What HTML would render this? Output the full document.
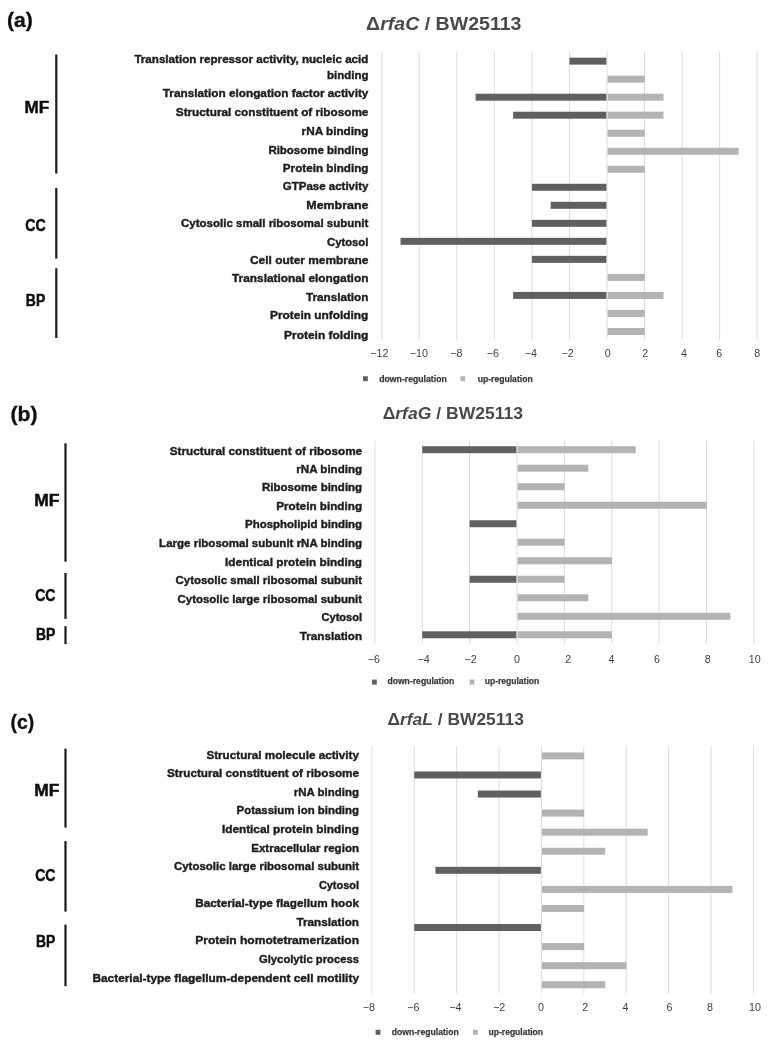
<!DOCTYPE html>
<html lang="en">
<head>
<meta charset="utf-8">
<title>GO enrichment of differentially expressed proteins</title>
<style>
html,body{margin:0;padding:0;background:#fff;}
body{width:776px;height:1048px;overflow:hidden;}
svg{display:block;font-family:"Liberation Sans",sans-serif;}
</style>
</head>
<body>
<svg width="776" height="1048" viewBox="0 0 776 1048">
<defs><filter id="soft" x="0" y="0" width="776" height="1048" filterUnits="userSpaceOnUse"><feGaussianBlur stdDeviation="0.45"/></filter></defs>
<rect x="0" y="0" width="776" height="1048" fill="#ffffff"/>
<g filter="url(#soft)">
<line x1="381.76" y1="51.50" x2="381.76" y2="339.60" stroke="#dcdcdc" stroke-width="1"/>
<line x1="419.30" y1="51.50" x2="419.30" y2="339.60" stroke="#dcdcdc" stroke-width="1"/>
<line x1="456.84" y1="51.50" x2="456.84" y2="339.60" stroke="#dcdcdc" stroke-width="1"/>
<line x1="494.38" y1="51.50" x2="494.38" y2="339.60" stroke="#dcdcdc" stroke-width="1"/>
<line x1="531.92" y1="51.50" x2="531.92" y2="339.60" stroke="#dcdcdc" stroke-width="1"/>
<line x1="569.46" y1="51.50" x2="569.46" y2="339.60" stroke="#dcdcdc" stroke-width="1"/>
<line x1="607.00" y1="51.50" x2="607.00" y2="339.60" stroke="#dcdcdc" stroke-width="1"/>
<line x1="644.54" y1="51.50" x2="644.54" y2="339.60" stroke="#dcdcdc" stroke-width="1"/>
<line x1="682.08" y1="51.50" x2="682.08" y2="339.60" stroke="#dcdcdc" stroke-width="1"/>
<line x1="719.62" y1="51.50" x2="719.62" y2="339.60" stroke="#dcdcdc" stroke-width="1"/>
<line x1="757.16" y1="51.50" x2="757.16" y2="339.60" stroke="#dcdcdc" stroke-width="1"/>
<rect x="569.46" y="57.65" width="36.94" height="7.00" fill="#616161"/>
<rect x="607.60" y="75.67" width="37.14" height="7.00" fill="#b3b3b3"/>
<rect x="475.61" y="93.69" width="130.79" height="7.00" fill="#616161"/>
<rect x="607.60" y="93.69" width="55.91" height="7.00" fill="#b3b3b3"/>
<rect x="513.15" y="111.71" width="93.25" height="7.00" fill="#616161"/>
<rect x="607.60" y="111.71" width="55.91" height="7.00" fill="#b3b3b3"/>
<rect x="607.60" y="129.73" width="37.14" height="7.00" fill="#b3b3b3"/>
<rect x="607.60" y="147.75" width="130.99" height="7.00" fill="#b3b3b3"/>
<rect x="607.60" y="165.77" width="37.14" height="7.00" fill="#b3b3b3"/>
<rect x="531.92" y="183.79" width="74.48" height="7.00" fill="#616161"/>
<rect x="550.69" y="201.81" width="55.71" height="7.00" fill="#616161"/>
<rect x="531.92" y="219.83" width="74.48" height="7.00" fill="#616161"/>
<rect x="400.53" y="237.85" width="205.87" height="7.00" fill="#616161"/>
<rect x="531.92" y="255.87" width="74.48" height="7.00" fill="#616161"/>
<rect x="607.60" y="273.89" width="37.14" height="7.00" fill="#b3b3b3"/>
<rect x="513.15" y="291.91" width="93.25" height="7.00" fill="#616161"/>
<rect x="607.60" y="291.91" width="55.91" height="7.00" fill="#b3b3b3"/>
<rect x="607.60" y="309.93" width="37.14" height="7.00" fill="#b3b3b3"/>
<rect x="607.60" y="327.95" width="37.14" height="7.00" fill="#b3b3b3"/>
<text x="134.4" y="62.8" font-size="11.6" font-weight="bold" text-anchor="start" fill="#1c1c1c" textLength="234.0" lengthAdjust="spacingAndGlyphs" stroke="#1c1c1c" stroke-width="0.4">Translation repressor activity, nucleic acid</text>
<text x="327.0" y="78.5" font-size="11.6" font-weight="bold" text-anchor="start" fill="#1c1c1c" textLength="41.4" lengthAdjust="spacingAndGlyphs" stroke="#1c1c1c" stroke-width="0.4">binding</text>
<text x="162.8" y="96.5" font-size="11.6" font-weight="bold" text-anchor="start" fill="#1c1c1c" textLength="205.6" lengthAdjust="spacingAndGlyphs" stroke="#1c1c1c" stroke-width="0.4">Translation elongation factor activity</text>
<text x="175.8" y="115.7" font-size="11.6" font-weight="bold" text-anchor="start" fill="#1c1c1c" textLength="192.6" lengthAdjust="spacingAndGlyphs" stroke="#1c1c1c" stroke-width="0.4">Structural constituent of ribosome</text>
<text x="301.6" y="135.0" font-size="11.6" font-weight="bold" text-anchor="start" fill="#1c1c1c" textLength="66.8" lengthAdjust="spacingAndGlyphs" stroke="#1c1c1c" stroke-width="0.4">rNA binding</text>
<text x="268.4" y="153.5" font-size="11.6" font-weight="bold" text-anchor="start" fill="#1c1c1c" textLength="100.0" lengthAdjust="spacingAndGlyphs" stroke="#1c1c1c" stroke-width="0.4">Ribosome binding</text>
<text x="282.8" y="171.7" font-size="11.6" font-weight="bold" text-anchor="start" fill="#1c1c1c" textLength="85.6" lengthAdjust="spacingAndGlyphs" stroke="#1c1c1c" stroke-width="0.4">Protein binding</text>
<text x="282.8" y="189.8" font-size="11.6" font-weight="bold" text-anchor="start" fill="#1c1c1c" textLength="85.6" lengthAdjust="spacingAndGlyphs" stroke="#1c1c1c" stroke-width="0.4">GTPase activity</text>
<text x="306.3" y="208.7" font-size="11.6" font-weight="bold" text-anchor="start" fill="#1c1c1c" textLength="62.1" lengthAdjust="spacingAndGlyphs" stroke="#1c1c1c" stroke-width="0.4">Membrane</text>
<text x="181.0" y="227.2" font-size="11.6" font-weight="bold" text-anchor="start" fill="#1c1c1c" textLength="187.4" lengthAdjust="spacingAndGlyphs" stroke="#1c1c1c" stroke-width="0.4">Cytosolic small ribosomal subunit</text>
<text x="327.0" y="245.8" font-size="11.6" font-weight="bold" text-anchor="start" fill="#1c1c1c" textLength="41.4" lengthAdjust="spacingAndGlyphs" stroke="#1c1c1c" stroke-width="0.4">Cytosol</text>
<text x="250.0" y="263.9" font-size="11.6" font-weight="bold" text-anchor="start" fill="#1c1c1c" textLength="118.4" lengthAdjust="spacingAndGlyphs" stroke="#1c1c1c" stroke-width="0.4">Cell outer membrane</text>
<text x="232.0" y="282.1" font-size="11.6" font-weight="bold" text-anchor="start" fill="#1c1c1c" textLength="136.4" lengthAdjust="spacingAndGlyphs" stroke="#1c1c1c" stroke-width="0.4">Translational elongation</text>
<text x="306.0" y="301.0" font-size="11.6" font-weight="bold" text-anchor="start" fill="#1c1c1c" textLength="62.4" lengthAdjust="spacingAndGlyphs" stroke="#1c1c1c" stroke-width="0.4">Translation</text>
<text x="270.0" y="319.2" font-size="11.6" font-weight="bold" text-anchor="start" fill="#1c1c1c" textLength="98.4" lengthAdjust="spacingAndGlyphs" stroke="#1c1c1c" stroke-width="0.4">Protein unfolding</text>
<text x="284.0" y="338.6" font-size="11.6" font-weight="bold" text-anchor="start" fill="#1c1c1c" textLength="84.4" lengthAdjust="spacingAndGlyphs" stroke="#1c1c1c" stroke-width="0.4">Protein folding</text>
<text x="379.4" y="357.0" font-size="10.7" font-weight="normal" text-anchor="middle" fill="#404040">−12</text>
<text x="418.8" y="357.0" font-size="10.7" font-weight="normal" text-anchor="middle" fill="#404040">−10</text>
<text x="456.4" y="357.0" font-size="10.7" font-weight="normal" text-anchor="middle" fill="#404040">−8</text>
<text x="492.8" y="357.0" font-size="10.7" font-weight="normal" text-anchor="middle" fill="#404040">−6</text>
<text x="530.9" y="357.0" font-size="10.7" font-weight="normal" text-anchor="middle" fill="#404040">−4</text>
<text x="567.5" y="357.0" font-size="10.7" font-weight="normal" text-anchor="middle" fill="#404040">−2</text>
<text x="607.7" y="357.0" font-size="10.7" font-weight="normal" text-anchor="middle" fill="#404040">0</text>
<text x="645.3" y="357.0" font-size="10.7" font-weight="normal" text-anchor="middle" fill="#404040">2</text>
<text x="683.9" y="357.0" font-size="10.7" font-weight="normal" text-anchor="middle" fill="#404040">4</text>
<text x="719.2" y="357.0" font-size="10.7" font-weight="normal" text-anchor="middle" fill="#404040">6</text>
<text x="757.3" y="357.0" font-size="10.7" font-weight="normal" text-anchor="middle" fill="#404040">8</text>
<rect x="363.00" y="376.20" width="4.80" height="5.00" fill="#616161"/>
<text x="379.2" y="381.8" font-size="9.0" font-weight="bold" text-anchor="start" fill="#383838" textLength="67.6" lengthAdjust="spacingAndGlyphs" stroke="#383838" stroke-width="0.25">down-regulation</text>
<rect x="460.40" y="376.20" width="4.80" height="5.00" fill="#b3b3b3"/>
<text x="477.7" y="381.8" font-size="9.0" font-weight="bold" text-anchor="start" fill="#383838" textLength="55.0" lengthAdjust="spacingAndGlyphs" stroke="#383838" stroke-width="0.25">up-regulation</text>
<text x="366.1" y="30.3" font-size="19.0" font-weight="bold" fill="#484848" textLength="155.4" lengthAdjust="spacingAndGlyphs">Δ<tspan font-style="italic">rfaC</tspan> / BW25113</text>
<text x="7.0" y="26.6" font-size="20.8" font-weight="bold" text-anchor="start" fill="#111" textLength="25.9" lengthAdjust="spacingAndGlyphs" stroke="#111" stroke-width="0.3">(a)</text>
<text x="24.6" y="113.0" font-size="16" font-weight="bold" text-anchor="start" fill="#111" textLength="24.7" lengthAdjust="spacingAndGlyphs" stroke="#111" stroke-width="0.5">MF</text>
<text x="25.3" y="230.8" font-size="16" font-weight="bold" text-anchor="start" fill="#111" textLength="20.3" lengthAdjust="spacingAndGlyphs" stroke="#111" stroke-width="0.5">CC</text>
<text x="25.8" y="305.5" font-size="16" font-weight="bold" text-anchor="start" fill="#111" textLength="19.4" lengthAdjust="spacingAndGlyphs" stroke="#111" stroke-width="0.5">BP</text>
<line x1="56.30" y1="54.50" x2="56.30" y2="173.60" stroke="#1a1a1a" stroke-width="2.2"/>
<line x1="56.30" y1="187.90" x2="56.30" y2="258.60" stroke="#1a1a1a" stroke-width="2.2"/>
<line x1="56.30" y1="268.20" x2="56.30" y2="338.00" stroke="#1a1a1a" stroke-width="2.2"/>
<line x1="374.86" y1="440.60" x2="374.86" y2="643.20" stroke="#dcdcdc" stroke-width="1"/>
<line x1="422.24" y1="440.60" x2="422.24" y2="643.20" stroke="#dcdcdc" stroke-width="1"/>
<line x1="469.62" y1="440.60" x2="469.62" y2="643.20" stroke="#dcdcdc" stroke-width="1"/>
<line x1="517.00" y1="440.60" x2="517.00" y2="643.20" stroke="#dcdcdc" stroke-width="1"/>
<line x1="564.38" y1="440.60" x2="564.38" y2="643.20" stroke="#dcdcdc" stroke-width="1"/>
<line x1="611.76" y1="440.60" x2="611.76" y2="643.20" stroke="#dcdcdc" stroke-width="1"/>
<line x1="659.14" y1="440.60" x2="659.14" y2="643.20" stroke="#dcdcdc" stroke-width="1"/>
<line x1="706.52" y1="440.60" x2="706.52" y2="643.20" stroke="#dcdcdc" stroke-width="1"/>
<line x1="753.90" y1="440.60" x2="753.90" y2="643.20" stroke="#dcdcdc" stroke-width="1"/>
<rect x="422.24" y="446.20" width="94.16" height="7.00" fill="#616161"/>
<rect x="517.60" y="446.20" width="118.05" height="7.00" fill="#b3b3b3"/>
<rect x="517.60" y="464.71" width="70.67" height="7.00" fill="#b3b3b3"/>
<rect x="517.60" y="483.22" width="46.98" height="7.00" fill="#b3b3b3"/>
<rect x="517.60" y="501.73" width="189.12" height="7.00" fill="#b3b3b3"/>
<rect x="469.62" y="520.24" width="46.78" height="7.00" fill="#616161"/>
<rect x="517.60" y="538.75" width="46.98" height="7.00" fill="#b3b3b3"/>
<rect x="517.60" y="557.26" width="94.36" height="7.00" fill="#b3b3b3"/>
<rect x="469.62" y="575.77" width="46.78" height="7.00" fill="#616161"/>
<rect x="517.60" y="575.77" width="46.98" height="7.00" fill="#b3b3b3"/>
<rect x="517.60" y="594.28" width="70.67" height="7.00" fill="#b3b3b3"/>
<rect x="517.60" y="612.79" width="212.81" height="7.00" fill="#b3b3b3"/>
<rect x="422.24" y="631.30" width="94.16" height="7.00" fill="#616161"/>
<rect x="517.60" y="631.30" width="94.36" height="7.00" fill="#b3b3b3"/>
<text x="169.8" y="454.5" font-size="11.6" font-weight="bold" text-anchor="start" fill="#1c1c1c" textLength="192.3" lengthAdjust="spacingAndGlyphs" stroke="#1c1c1c" stroke-width="0.4">Structural constituent of ribosome</text>
<text x="296.3" y="472.9" font-size="11.6" font-weight="bold" text-anchor="start" fill="#1c1c1c" textLength="65.8" lengthAdjust="spacingAndGlyphs" stroke="#1c1c1c" stroke-width="0.4">rNA binding</text>
<text x="262.0" y="491.4" font-size="11.6" font-weight="bold" text-anchor="start" fill="#1c1c1c" textLength="100.1" lengthAdjust="spacingAndGlyphs" stroke="#1c1c1c" stroke-width="0.4">Ribosome binding</text>
<text x="276.2" y="509.8" font-size="11.6" font-weight="bold" text-anchor="start" fill="#1c1c1c" textLength="85.9" lengthAdjust="spacingAndGlyphs" stroke="#1c1c1c" stroke-width="0.4">Protein binding</text>
<text x="245.0" y="528.2" font-size="11.6" font-weight="bold" text-anchor="start" fill="#1c1c1c" textLength="117.1" lengthAdjust="spacingAndGlyphs" stroke="#1c1c1c" stroke-width="0.4">Phospholipid binding</text>
<text x="159.1" y="547.2" font-size="11.6" font-weight="bold" text-anchor="start" fill="#1c1c1c" textLength="203.0" lengthAdjust="spacingAndGlyphs" stroke="#1c1c1c" stroke-width="0.4">Large ribosomal subunit rNA binding</text>
<text x="225.1" y="565.6" font-size="11.6" font-weight="bold" text-anchor="start" fill="#1c1c1c" textLength="137.0" lengthAdjust="spacingAndGlyphs" stroke="#1c1c1c" stroke-width="0.4">Identical protein binding</text>
<text x="175.5" y="583.5" font-size="11.6" font-weight="bold" text-anchor="start" fill="#1c1c1c" textLength="186.6" lengthAdjust="spacingAndGlyphs" stroke="#1c1c1c" stroke-width="0.4">Cytosolic small ribosomal subunit</text>
<text x="177.5" y="602.5" font-size="11.6" font-weight="bold" text-anchor="start" fill="#1c1c1c" textLength="184.6" lengthAdjust="spacingAndGlyphs" stroke="#1c1c1c" stroke-width="0.4">Cytosolic large ribosomal subunit</text>
<text x="321.5" y="620.9" font-size="11.6" font-weight="bold" text-anchor="start" fill="#1c1c1c" textLength="40.6" lengthAdjust="spacingAndGlyphs" stroke="#1c1c1c" stroke-width="0.4">Cytosol</text>
<text x="299.7" y="639.6" font-size="11.6" font-weight="bold" text-anchor="start" fill="#1c1c1c" textLength="62.4" lengthAdjust="spacingAndGlyphs" stroke="#1c1c1c" stroke-width="0.4">Translation</text>
<text x="373.9" y="663.3" font-size="10.7" font-weight="normal" text-anchor="middle" fill="#404040">−6</text>
<text x="423.5" y="663.3" font-size="10.7" font-weight="normal" text-anchor="middle" fill="#404040">−4</text>
<text x="470.6" y="663.3" font-size="10.7" font-weight="normal" text-anchor="middle" fill="#404040">−2</text>
<text x="516.9" y="663.3" font-size="10.7" font-weight="normal" text-anchor="middle" fill="#404040">0</text>
<text x="568.2" y="663.3" font-size="10.7" font-weight="normal" text-anchor="middle" fill="#404040">2</text>
<text x="611.5" y="663.3" font-size="10.7" font-weight="normal" text-anchor="middle" fill="#404040">4</text>
<text x="657.1" y="663.3" font-size="10.7" font-weight="normal" text-anchor="middle" fill="#404040">6</text>
<text x="707.8" y="663.3" font-size="10.7" font-weight="normal" text-anchor="middle" fill="#404040">8</text>
<text x="754.8" y="663.3" font-size="10.7" font-weight="normal" text-anchor="middle" fill="#404040">10</text>
<rect x="372.00" y="679.60" width="4.80" height="5.00" fill="#616161"/>
<text x="387.4" y="684.0" font-size="9.0" font-weight="bold" text-anchor="start" fill="#383838" textLength="67.0" lengthAdjust="spacingAndGlyphs" stroke="#383838" stroke-width="0.25">down-regulation</text>
<rect x="469.60" y="679.60" width="4.80" height="5.00" fill="#b3b3b3"/>
<text x="484.8" y="684.0" font-size="9.0" font-weight="bold" text-anchor="start" fill="#383838" textLength="54.4" lengthAdjust="spacingAndGlyphs" stroke="#383838" stroke-width="0.25">up-regulation</text>
<text x="382.7" y="419.4" font-size="17.3" font-weight="bold" fill="#484848" textLength="140.3" lengthAdjust="spacingAndGlyphs">Δ<tspan font-style="italic">rfaG</tspan> / BW25113</text>
<text x="10.5" y="420.9" font-size="20.8" font-weight="bold" text-anchor="start" fill="#111" textLength="27.1" lengthAdjust="spacingAndGlyphs" stroke="#111" stroke-width="0.3">(b)</text>
<text x="34.3" y="505.7" font-size="16" font-weight="bold" text-anchor="start" fill="#111" textLength="25.2" lengthAdjust="spacingAndGlyphs" stroke="#111" stroke-width="0.5">MF</text>
<text x="35.3" y="600.8" font-size="16" font-weight="bold" text-anchor="start" fill="#111" textLength="20.1" lengthAdjust="spacingAndGlyphs" stroke="#111" stroke-width="0.5">CC</text>
<text x="35.9" y="639.5" font-size="16" font-weight="bold" text-anchor="start" fill="#111" textLength="19.3" lengthAdjust="spacingAndGlyphs" stroke="#111" stroke-width="0.5">BP</text>
<line x1="65.50" y1="443.30" x2="65.50" y2="561.70" stroke="#1a1a1a" stroke-width="2.2"/>
<line x1="65.50" y1="573.00" x2="65.50" y2="618.90" stroke="#1a1a1a" stroke-width="2.2"/>
<line x1="65.50" y1="626.20" x2="65.50" y2="644.10" stroke="#1a1a1a" stroke-width="2.2"/>
<line x1="371.85" y1="746.30" x2="371.85" y2="993.60" stroke="#dcdcdc" stroke-width="1"/>
<line x1="414.25" y1="746.30" x2="414.25" y2="993.60" stroke="#dcdcdc" stroke-width="1"/>
<line x1="456.65" y1="746.30" x2="456.65" y2="993.60" stroke="#dcdcdc" stroke-width="1"/>
<line x1="499.05" y1="746.30" x2="499.05" y2="993.60" stroke="#dcdcdc" stroke-width="1"/>
<line x1="541.45" y1="746.30" x2="541.45" y2="993.60" stroke="#dcdcdc" stroke-width="1"/>
<line x1="583.85" y1="746.30" x2="583.85" y2="993.60" stroke="#dcdcdc" stroke-width="1"/>
<line x1="626.25" y1="746.30" x2="626.25" y2="993.60" stroke="#dcdcdc" stroke-width="1"/>
<line x1="668.65" y1="746.30" x2="668.65" y2="993.60" stroke="#dcdcdc" stroke-width="1"/>
<line x1="711.05" y1="746.30" x2="711.05" y2="993.60" stroke="#dcdcdc" stroke-width="1"/>
<line x1="753.45" y1="746.30" x2="753.45" y2="993.60" stroke="#dcdcdc" stroke-width="1"/>
<rect x="542.05" y="752.40" width="42.00" height="7.00" fill="#b3b3b3"/>
<rect x="414.25" y="771.47" width="126.60" height="7.00" fill="#616161"/>
<rect x="477.85" y="790.54" width="63.00" height="7.00" fill="#616161"/>
<rect x="542.05" y="809.61" width="42.00" height="7.00" fill="#b3b3b3"/>
<rect x="542.05" y="828.68" width="105.60" height="7.00" fill="#b3b3b3"/>
<rect x="542.05" y="847.75" width="63.20" height="7.00" fill="#b3b3b3"/>
<rect x="435.45" y="866.82" width="105.40" height="7.00" fill="#616161"/>
<rect x="542.05" y="885.89" width="190.40" height="7.00" fill="#b3b3b3"/>
<rect x="542.05" y="904.96" width="42.00" height="7.00" fill="#b3b3b3"/>
<rect x="414.25" y="924.03" width="126.60" height="7.00" fill="#616161"/>
<rect x="542.05" y="943.10" width="42.00" height="7.00" fill="#b3b3b3"/>
<rect x="542.05" y="962.17" width="84.40" height="7.00" fill="#b3b3b3"/>
<rect x="542.05" y="981.24" width="63.20" height="7.00" fill="#b3b3b3"/>
<text x="206.4" y="758.8" font-size="11.6" font-weight="bold" text-anchor="start" fill="#1c1c1c" textLength="152.6" lengthAdjust="spacingAndGlyphs" stroke="#1c1c1c" stroke-width="0.4">Structural molecule activity</text>
<text x="167.0" y="776.8" font-size="11.6" font-weight="bold" text-anchor="start" fill="#1c1c1c" textLength="192.0" lengthAdjust="spacingAndGlyphs" stroke="#1c1c1c" stroke-width="0.4">Structural constituent of ribosome</text>
<text x="293.8" y="795.6" font-size="11.6" font-weight="bold" text-anchor="start" fill="#1c1c1c" textLength="65.2" lengthAdjust="spacingAndGlyphs" stroke="#1c1c1c" stroke-width="0.4">rNA binding</text>
<text x="236.6" y="814.2" font-size="11.6" font-weight="bold" text-anchor="start" fill="#1c1c1c" textLength="122.4" lengthAdjust="spacingAndGlyphs" stroke="#1c1c1c" stroke-width="0.4">Potassium ion binding</text>
<text x="221.9" y="833.0" font-size="11.6" font-weight="bold" text-anchor="start" fill="#1c1c1c" textLength="137.1" lengthAdjust="spacingAndGlyphs" stroke="#1c1c1c" stroke-width="0.4">Identical protein binding</text>
<text x="251.2" y="851.6" font-size="11.6" font-weight="bold" text-anchor="start" fill="#1c1c1c" textLength="107.8" lengthAdjust="spacingAndGlyphs" stroke="#1c1c1c" stroke-width="0.4">Extracellular region</text>
<text x="173.9" y="870.1" font-size="11.6" font-weight="bold" text-anchor="start" fill="#1c1c1c" textLength="185.1" lengthAdjust="spacingAndGlyphs" stroke="#1c1c1c" stroke-width="0.4">Cytosolic large ribosomal subunit</text>
<text x="318.9" y="888.7" font-size="11.6" font-weight="bold" text-anchor="start" fill="#1c1c1c" textLength="40.1" lengthAdjust="spacingAndGlyphs" stroke="#1c1c1c" stroke-width="0.4">Cytosol</text>
<text x="195.2" y="907.3" font-size="11.6" font-weight="bold" text-anchor="start" fill="#1c1c1c" textLength="163.8" lengthAdjust="spacingAndGlyphs" stroke="#1c1c1c" stroke-width="0.4">Bacterial-type flagellum hook</text>
<text x="296.5" y="925.8" font-size="11.6" font-weight="bold" text-anchor="start" fill="#1c1c1c" textLength="62.5" lengthAdjust="spacingAndGlyphs" stroke="#1c1c1c" stroke-width="0.4">Translation</text>
<text x="195.2" y="944.3" font-size="11.6" font-weight="bold" text-anchor="start" fill="#1c1c1c" textLength="163.8" lengthAdjust="spacingAndGlyphs" stroke="#1c1c1c" stroke-width="0.4">Protein homotetramerization</text>
<text x="259.0" y="962.9" font-size="11.6" font-weight="bold" text-anchor="start" fill="#1c1c1c" textLength="100.0" lengthAdjust="spacingAndGlyphs" stroke="#1c1c1c" stroke-width="0.4">Glycolytic process</text>
<text x="92.4" y="981.5" font-size="11.6" font-weight="bold" text-anchor="start" fill="#1c1c1c" textLength="266.6" lengthAdjust="spacingAndGlyphs" stroke="#1c1c1c" stroke-width="0.4">Bacterial-type flagellum-dependent cell motility</text>
<text x="368.9" y="1011.0" font-size="10.7" font-weight="normal" text-anchor="middle" fill="#404040">−8</text>
<text x="413.4" y="1011.0" font-size="10.7" font-weight="normal" text-anchor="middle" fill="#404040">−6</text>
<text x="455.3" y="1011.0" font-size="10.7" font-weight="normal" text-anchor="middle" fill="#404040">−4</text>
<text x="499.2" y="1011.0" font-size="10.7" font-weight="normal" text-anchor="middle" fill="#404040">−2</text>
<text x="540.9" y="1011.0" font-size="10.7" font-weight="normal" text-anchor="middle" fill="#404040">0</text>
<text x="585.2" y="1011.0" font-size="10.7" font-weight="normal" text-anchor="middle" fill="#404040">2</text>
<text x="625.5" y="1011.0" font-size="10.7" font-weight="normal" text-anchor="middle" fill="#404040">4</text>
<text x="669.4" y="1011.0" font-size="10.7" font-weight="normal" text-anchor="middle" fill="#404040">6</text>
<text x="710.0" y="1011.0" font-size="10.7" font-weight="normal" text-anchor="middle" fill="#404040">8</text>
<text x="755.0" y="1011.0" font-size="10.7" font-weight="normal" text-anchor="middle" fill="#404040">10</text>
<rect x="375.60" y="1029.80" width="4.80" height="5.00" fill="#616161"/>
<text x="391.8" y="1035.0" font-size="9.0" font-weight="bold" text-anchor="start" fill="#383838" textLength="66.9" lengthAdjust="spacingAndGlyphs" stroke="#383838" stroke-width="0.25">down-regulation</text>
<rect x="473.00" y="1029.80" width="4.80" height="5.00" fill="#b3b3b3"/>
<text x="488.6" y="1035.0" font-size="9.0" font-weight="bold" text-anchor="start" fill="#383838" textLength="54.4" lengthAdjust="spacingAndGlyphs" stroke="#383838" stroke-width="0.25">up-regulation</text>
<text x="387.5" y="725.2" font-size="17.2" font-weight="bold" fill="#484848" textLength="136.4" lengthAdjust="spacingAndGlyphs">Δ<tspan font-style="italic">rfaL</tspan> / BW25113</text>
<text x="10.5" y="728.6" font-size="20.8" font-weight="bold" text-anchor="start" fill="#111" textLength="23.8" lengthAdjust="spacingAndGlyphs" stroke="#111" stroke-width="0.3">(c)</text>
<text x="34.3" y="795.6" font-size="16" font-weight="bold" text-anchor="start" fill="#111" textLength="25.2" lengthAdjust="spacingAndGlyphs" stroke="#111" stroke-width="0.5">MF</text>
<text x="35.3" y="881.3" font-size="16" font-weight="bold" text-anchor="start" fill="#111" textLength="20.1" lengthAdjust="spacingAndGlyphs" stroke="#111" stroke-width="0.5">CC</text>
<text x="35.9" y="946.7" font-size="16" font-weight="bold" text-anchor="start" fill="#111" textLength="19.3" lengthAdjust="spacingAndGlyphs" stroke="#111" stroke-width="0.5">BP</text>
<line x1="65.50" y1="748.70" x2="65.50" y2="827.60" stroke="#1a1a1a" stroke-width="2.2"/>
<line x1="65.50" y1="841.10" x2="65.50" y2="911.60" stroke="#1a1a1a" stroke-width="2.2"/>
<line x1="65.50" y1="924.60" x2="65.50" y2="986.20" stroke="#1a1a1a" stroke-width="2.2"/>
</g>
</svg>
</body>
</html>
